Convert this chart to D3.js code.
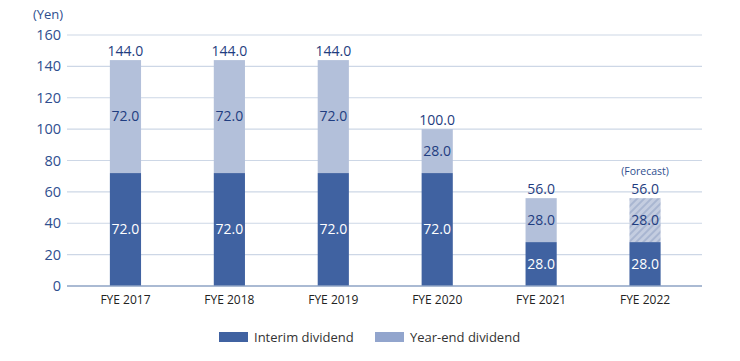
<!DOCTYPE html>
<html><head><meta charset="utf-8">
<script src="https://cdn.jsdelivr.net/npm/d3@7"></script>
<style>body{margin:0;background:#fff}svg{display:block;font-family:"Open Sans","Noto Sans",sans-serif}</style>
</head><body><svg id="c" width="740" height="361"></svg>
<script>
const categories = ["FYE 2017","FYE 2018","FYE 2019","FYE 2020","FYE 2021","FYE 2022"];
const interim = [72.0,72.0,72.0,72.0,28.0,28.0];
const yearEnd = [72.0,72.0,72.0,28.0,28.0,28.0];
const forecast = [false,false,false,false,false,true];
const yTicks = [0,20,40,60,80,100,120,140,160];
const seriesNames = ["Interim dividend","Year-end dividend"];

const svg = d3.select("#c");
const defs = svg.append("defs");
const pat = defs.append("pattern").attr("id","hatch").attr("patternUnits","userSpaceOnUse")
  .attr("width",5).attr("height",5).attr("patternTransform","rotate(45)");
pat.append("rect").attr("width",5).attr("height",5).attr("fill","#c4cde0");
pat.append("rect").attr("width",2).attr("height",5).attr("fill","#a9b6d1");

const x = d3.scaleBand().domain(categories).range([73.5,697]).paddingInner(0.7).paddingOuter(0.35);
const y = d3.scaleLinear().domain([0,160]).range([286,35]);

// grid
svg.append("g").selectAll("line").data(yTicks.filter(d=>d>0)).join("line")
  .attr("x1",67).attr("x2",702).attr("y1",d=>y(d)).attr("y2",d=>y(d))
  .attr("stroke","#cdd7e6").attr("stroke-width",1.2);

// y tick labels
svg.append("g").selectAll("text").data(yTicks).join("text")
  .attr("x",61).attr("y",d=>y(d)).attr("dy","0.35em").attr("text-anchor","end")
  .attr("fill","#2f4f8f").attr("font-size",14.5).text(d=>d);
svg.append("text").attr("x",48).attr("y",19).attr("text-anchor","middle")
  .attr("fill","#2f4f8f").attr("font-size",13).text("(Yen)");

const data = categories.map((c,i)=>({c,a:interim[i],b:yearEnd[i],f:forecast[i]}));
const bw = x.bandwidth();
const g = svg.append("g");
// interim
g.selectAll("rect.a").data(data).join("rect").attr("class","a")
  .attr("x",d=>x(d.c)).attr("width",bw).attr("y",d=>y(d.a)).attr("height",d=>y(0)-y(d.a))
  .attr("fill","#4062a1");
// year-end
g.selectAll("rect.b").data(data).join("rect").attr("class","b")
  .attr("x",d=>x(d.c)).attr("width",bw).attr("y",d=>y(d.a+d.b)).attr("height",d=>y(d.a)-y(d.a+d.b))
  .attr("fill",d=>d.f?"url(#hatch)":"#b3c0da");

// axis line
svg.append("line").attr("x1",67).attr("x2",702).attr("y1",y(0)).attr("y2",y(0))
  .attr("stroke","#8ea3c4").attr("stroke-width",1.5);

// labels
g.selectAll("text.a").data(data).join("text").attr("class","a")
  .attr("x",d=>x(d.c)+bw/2).attr("y",d=>(y(0)+y(d.a))/2).attr("dy","0.35em")
  .attr("text-anchor","middle").attr("fill","#fff").attr("font-size",14).text(d=>d.a.toFixed(1));
g.selectAll("text.b").data(data).join("text").attr("class","b")
  .attr("x",d=>x(d.c)+bw/2).attr("y",d=>(y(d.a)+y(d.a+d.b))/2).attr("dy","0.35em")
  .attr("text-anchor","middle").attr("fill","#1f3d80").attr("font-size",14).text(d=>d.b.toFixed(1));
g.selectAll("text.t").data(data).join("text").attr("class","t")
  .attr("x",d=>x(d.c)+bw/2).attr("y",d=>y(d.a+d.b)-4)
  .attr("text-anchor","middle").attr("fill","#1f3d80").attr("font-size",14).text(d=>(d.a+d.b).toFixed(1));
g.selectAll("text.f").data(data.filter(d=>d.f)).join("text").attr("class","f")
  .attr("x",d=>x(d.c)+bw/2).attr("y",d=>y(d.a+d.b)-23)
  .attr("text-anchor","middle").attr("fill","#2f4f8f").attr("font-size",10.5).text("(Forecast)");

// x labels
svg.append("g").selectAll("text").data(categories).join("text")
  .attr("x",d=>x(d)+bw/2).attr("y",304).attr("text-anchor","middle")
  .attr("fill","#222").attr("font-size",12).text(d=>d);

// legend
const leg = [{x:219,c:"#4062a1",t:seriesNames[0]},{x:375,c:"#92a5cd",t:seriesNames[1]}];
const lg = svg.append("g").selectAll("g").data(leg).join("g");
lg.append("rect").attr("x",d=>d.x).attr("y",332).attr("width",29).attr("height",10).attr("fill",d=>d.c);
lg.append("text").attr("x",d=>d.x+35).attr("y",337).attr("dy","0.35em")
  .attr("fill","#333").attr("font-size",13).text(d=>d.t);
</script></body></html>
